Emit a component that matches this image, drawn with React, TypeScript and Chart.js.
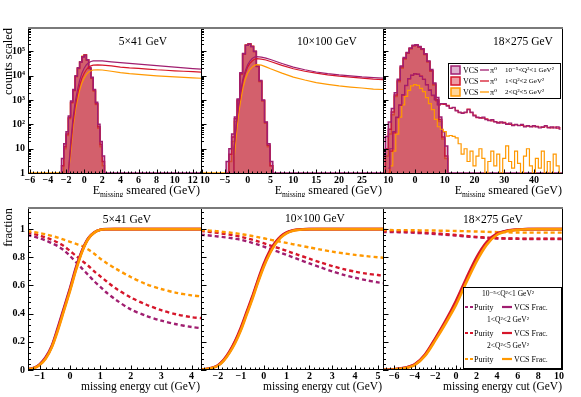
import React, { useEffect, useRef } from "react";
import { Chart, registerables } from "chart.js";

Chart.register(...registerables);

// ---------------- text ----------------
const ENERGY_LABELS = ["5×41 GeV", "10×100 GeV", "18×275 GeV"];
const Q2_LABELS = ["10⁻⁵<Q²<1 GeV²", "1<Q²<2 GeV²", "2<Q²<5 GeV²"];
const Y_TITLE_TOP = "counts scaled";
const Y_TITLE_BOTTOM = "fraction";
const X_TITLE_TOP = ["E", "missing", " smeared (GeV)"];
const X_TITLE_BOTTOM = "missing energy cut (GeV)";
const LOG_TICK_VALUES = [1, 10, 100, 1000, 10000, 100000];
const LOG_TICK_LABELS = ["1", "10", "10²", "10³", "10⁴", "10⁵"];

// ---------------- top row: 5x41 ----------------
const VCS41_BIN_START = -2.5;
const VCS41_BIN_WIDTH = 0.25;
const vcs41Purple = [4, 16, 50, 220, 900, 2700, 10000, 21000, 36000, 58000, 68000, 45000, 21000, 8500, 2700, 800, 100, 20, 5];
const vcs41Red = [2, 12, 40, 190, 800, 2500, 9500, 20000, 35000, 60000, 70000, 44000, 20000, 8000, 2500, 700, 80, 15, 3];
const vcs41Orange = [1, 10, 35, 170, 750, 2400, 9000, 19000, 36000, 62000, 72000, 43000, 19000, 7600, 2300, 650, 70, 12, 2];
const pi41X = [-1.75, -1.5, -1.25, -1, -0.75, -0.5, -0.25, 0, 0.25, 0.5, 0.75, 1, 1.5, 2, 3, 4, 5, 6, 7, 8, 9, 10, 11, 12, 12.9];
const pi41Purple = [1, 16, 160, 800, 2500, 6300, 12600, 20000, 28000, 34000, 38000, 40000, 40700, 40000, 37000, 34000, 31600, 29500, 27500, 25700, 24000, 22400, 20900, 19500, 18600];
const pi41Red = [1, 10, 100, 500, 1600, 4000, 7900, 12600, 17800, 22400, 25100, 26900, 27500, 26900, 25100, 22400, 20900, 20000, 18600, 17400, 16600, 15800, 15100, 14500, 13800];
const pi41Orange = [1, 6, 63, 316, 1000, 2500, 5000, 7900, 11200, 14100, 15800, 17000, 17400, 17000, 15100, 13200, 12000, 11200, 10500, 9800, 9300, 8900, 8500, 8100, 7800];

// ---------------- top row: 10x100 ----------------
const VCS100_BIN_START = -4.7;
const VCS100_BIN_WIDTH = 0.6;
const vcs100Purple = [3, 10, 40, 200, 1100, 13000, 80000, 178000, 200000, 158000, 100000, 25000, 6300, 1000, 126, 16, 3];
const vcs100Red = [1, 6, 30, 170, 1000, 12000, 78000, 175000, 198000, 156000, 98000, 24000, 6000, 950, 120, 14, 2];
const vcs100Orange = [1, 3, 20, 130, 900, 11000, 76000, 180000, 205000, 160000, 97000, 23000, 5600, 900, 110, 12, 2];
const pi100X = [-3.2, -3, -2.5, -2, -1.5, -1, -0.5, 0, 0.5, 1, 1.5, 2, 3, 4, 5, 7.5, 10, 12.5, 15, 17.5, 20, 22.5, 25, 27.5, 29.6];
const pi100Purple = [1, 10, 100, 630, 2500, 7900, 15800, 28200, 39800, 50100, 57500, 60300, 57500, 52500, 45700, 31600, 22400, 17400, 14100, 12000, 10700, 9800, 8900, 8300, 7900];
const pi100Red = [1, 8, 80, 500, 2000, 6300, 12600, 22400, 31600, 39800, 46800, 50100, 47900, 43700, 38000, 26300, 19100, 15100, 12600, 10700, 9500, 8700, 7900, 7200, 6900];
const pi100Orange = [1, 3, 32, 250, 1000, 3200, 7100, 12600, 17800, 22400, 26300, 28200, 26900, 22900, 19100, 12600, 8700, 6600, 5200, 4400, 3800, 3400, 3100, 2800, 2700];

// ---------------- top row: 18x275 ----------------
const VCS275_BIN_START = -11;
const VCS275_BIN_WIDTH = 1;
const vcs275Purple = [5, 32, 126, 450, 2000, 7100, 25100, 56000, 89000, 135000, 178000, 186000, 158000, 126000, 79000, 40000, 17800, 5000, 1260, 200, 50, 13];
const vcs275Red = [1, 10, 63, 320, 1600, 6300, 22400, 50000, 85000, 130000, 170000, 180000, 150000, 120000, 75000, 38000, 16000, 4500, 1000, 160, 30, 5];
const vcs275Orange = [1, 5, 40, 250, 1400, 5600, 20000, 48000, 83000, 128000, 168000, 178000, 150000, 118000, 72000, 36000, 15000, 4000, 900, 130, 25, 4];
const PI275_BIN_START = -9;
const PI275_BIN_WIDTH = 1;
const pi275Purple = [1.6, 10, 50, 200, 630, 1660, 4000, 7600, 10500, 11700, 11500, 9300, 7100, 4200, 2500, 1600, 1000, 630, 710,
  708, 562, 447, 501, 355, 316, 282, 316, 398, 316, 224, 200, 178, 200, 158, 141, 158, 126, 112, 126, 112, 100, 112, 89, 100, 89, 100, 79, 89, 79, 89, 79, 71, 79, 89, 71, 79, 71, 79, 63];
const pi275Red = [1, 8, 45, 190, 600, 1600, 3900, 7400, 10300, 11900, 11300, 9500, 7000, 4300, 2600, 1500, 1050, 650, 680,
  660, 600, 470, 480, 380, 300, 300, 300, 420, 300, 240, 190, 190, 180, 170, 150, 140, 130, 120, 115, 120, 105, 100, 95, 95, 92, 90, 85, 84, 82, 80, 82, 78, 75, 80, 76, 72, 78, 70, 72];
const pi275Orange = [1, 2, 8, 40, 200, 630, 1400, 2500, 3800, 4300, 4000, 3000, 2200, 1260, 710, 400, 160, 80, 63,
  50, 33, 35, 32, 28, 16, 6, 10, 3, 8, 2, 5, 10, 4, 1, 3, 8, 2, 6, 1, 4, 13, 3, 1.6, 8, 2.5, 1, 5, 10, 2, 1, 4, 1.6, 8, 1, 3, 1, 6, 2, 1];

// ---------------- bottom row: 5x41 ----------------
const cut41X = [-1.4, -1.2, -1.0, -0.8, -0.6, -0.4, -0.2, 0, 0.2, 0.4, 0.6, 0.8, 1.0, 1.2, 1.5, 2, 2.5, 3, 3.5, 4, 4.35];
const frac41Purple = [0.005, 0.014, 0.04, 0.09, 0.17, 0.30, 0.44, 0.58, 0.73, 0.85, 0.935, 0.977, 0.996, 1, 1, 1, 1, 1, 1, 1, 1];
const frac41Red = [0.004, 0.013, 0.037, 0.085, 0.165, 0.29, 0.43, 0.57, 0.72, 0.845, 0.932, 0.976, 0.995, 0.999, 1, 1, 1, 1, 1, 1, 1];
const frac41Orange = [0.004, 0.012, 0.035, 0.08, 0.16, 0.28, 0.42, 0.56, 0.71, 0.84, 0.93, 0.975, 0.995, 0.999, 1, 1, 1, 1, 1, 1, 1];
const purity41Purple = [0.957, 0.948, 0.935, 0.92, 0.90, 0.88, 0.85, 0.81, 0.765, 0.72, 0.675, 0.63, 0.59, 0.55, 0.50, 0.43, 0.385, 0.35, 0.325, 0.305, 0.296];
const purity41Red = [0.975, 0.966, 0.955, 0.94, 0.925, 0.905, 0.88, 0.845, 0.81, 0.775, 0.74, 0.70, 0.665, 0.63, 0.58, 0.515, 0.465, 0.425, 0.395, 0.375, 0.368];
const purity41Orange = [0.986, 0.98, 0.972, 0.963, 0.952, 0.94, 0.925, 0.91, 0.895, 0.88, 0.855, 0.825, 0.79, 0.76, 0.72, 0.66, 0.61, 0.575, 0.548, 0.53, 0.522];

// ---------------- bottom row: 10x100 ----------------
const cut100X = [-2.75, -2.5, -2.25, -2, -1.75, -1.5, -1.25, -1, -0.75, -0.5, -0.25, 0, 0.25, 0.5, 0.75, 1, 1.25, 1.5, 2, 2.5, 3, 3.5, 4, 4.5, 5, 5.25];
const frac100Purple = [0.002, 0.006, 0.015, 0.032, 0.068, 0.125, 0.2, 0.29, 0.40, 0.51, 0.63, 0.74, 0.83, 0.9, 0.945, 0.974, 0.989, 0.996, 1, 1, 1, 1, 1, 1, 1, 1];
const frac100Red = [0.002, 0.007, 0.016, 0.034, 0.072, 0.13, 0.205, 0.30, 0.41, 0.52, 0.64, 0.75, 0.84, 0.905, 0.95, 0.977, 0.99, 0.997, 1, 1, 1, 1, 1, 1, 1, 1];
const frac100Orange = [0.002, 0.006, 0.014, 0.03, 0.065, 0.12, 0.19, 0.28, 0.39, 0.50, 0.62, 0.73, 0.82, 0.89, 0.94, 0.97, 0.987, 0.995, 0.999, 1, 1, 1, 1, 1, 1, 1];
const purity100Purple = [0.96, 0.957, 0.953, 0.948, 0.943, 0.938, 0.932, 0.925, 0.915, 0.903, 0.89, 0.876, 0.862, 0.847, 0.832, 0.817, 0.802, 0.787, 0.757, 0.728, 0.70, 0.675, 0.655, 0.637, 0.622, 0.617];
const purity100Red = [0.986, 0.983, 0.978, 0.973, 0.967, 0.961, 0.954, 0.946, 0.936, 0.925, 0.913, 0.90, 0.887, 0.873, 0.86, 0.846, 0.832, 0.818, 0.79, 0.763, 0.738, 0.716, 0.698, 0.684, 0.674, 0.67];
const purity100Orange = [0.993, 0.991, 0.988, 0.985, 0.98, 0.976, 0.971, 0.965, 0.958, 0.951, 0.943, 0.935, 0.926, 0.918, 0.91, 0.902, 0.894, 0.886, 0.87, 0.855, 0.84, 0.828, 0.817, 0.808, 0.80, 0.797];

// ---------------- bottom row: 18x275 ----------------
const cut275X = [-7.1, -6, -5, -4, -3, -2, -1, 0, 1, 2, 3, 4, 5, 6, 7, 8, 9, 10, 10.4];
const frac275Purple = [0.001, 0.005, 0.014, 0.038, 0.105, 0.22, 0.34, 0.475, 0.635, 0.785, 0.9, 0.965, 0.988, 0.996, 1, 1, 1, 1, 1];
const frac275Red = [0.001, 0.005, 0.015, 0.04, 0.11, 0.225, 0.35, 0.49, 0.65, 0.80, 0.91, 0.97, 0.99, 0.997, 1, 1, 1, 1, 1];
const frac275Orange = [0.001, 0.004, 0.012, 0.035, 0.10, 0.21, 0.33, 0.46, 0.62, 0.77, 0.89, 0.96, 0.985, 0.995, 0.999, 1, 1, 1, 1];
const purity275Purple = [0.98, 0.979, 0.977, 0.974, 0.97, 0.965, 0.96, 0.955, 0.948, 0.942, 0.937, 0.934, 0.932, 0.931, 0.93, 0.93, 0.93, 0.93, 0.93];
const purity275Red = [0.985, 0.984, 0.982, 0.979, 0.975, 0.97, 0.964, 0.958, 0.951, 0.945, 0.94, 0.936, 0.934, 0.933, 0.932, 0.932, 0.932, 0.932, 0.932];
const purity275Orange = [0.994, 0.993, 0.993, 0.992, 0.991, 0.99, 0.988, 0.987, 0.985, 0.983, 0.981, 0.979, 0.977, 0.976, 0.975, 0.975, 0.975, 0.975, 0.975];

// ---------------- styles ----------------
const SERIF = "'Liberation Serif', 'DejaVu Serif', 'Times New Roman', serif";
const PURPLE = "rgb(160,30,112)";
const RED = "rgb(214,22,42)";
const ORANGE = "rgb(255,152,0)";
const PURPLE_FILL = "rgba(160,30,112,0.35)";
const RED_FILL = "rgba(214,22,42,0.42)";
const ORANGE_FILL = "rgba(255,152,0,0.4)";
const COLORS = [PURPLE, RED, ORANGE];
const FILLS = [PURPLE_FILL, RED_FILL, ORANGE_FILL];
const TICK_FONT = { family: SERIF, size: 10, weight: "bold" as const, lineHeight: 1 };

type Pt = { x: number; y: number };

function histPoints(start: number, width: number, counts: number[], extendLeft?: number, extendRight?: number): Pt[] {
  const pts: Pt[] = [];
  if (extendLeft !== undefined) pts.push({ x: extendLeft, y: 1 });
  pts.push({ x: start, y: 1 });
  counts.forEach((c, i) => pts.push({ x: start + i * width, y: c }));
  const end = start + counts.length * width;
  pts.push({ x: end, y: 1 });
  if (extendRight !== undefined) pts.push({ x: extendRight, y: 1 });
  return pts;
}
function centers(start: number, width: number, counts: number[]): Pt[] {
  return counts.map((c, i) => ({ x: start + i * width, y: c }));
}
function zip(xs: number[], ys: number[]): Pt[] {
  return xs.map((x, i) => ({ x, y: ys[i] }));
}

const histDs = (data: Pt[], i: number) => ({
  data, borderColor: COLORS[i], backgroundColor: FILLS[i], borderWidth: 1.5,
  fill: "start", stepped: "before", pointRadius: 0,
});
const lineDs = (data: Pt[], i: number, stepped: any = false) => ({
  data, borderColor: COLORS[i], borderWidth: 1.2, fill: false, pointRadius: 0, stepped, tension: 0,
});
const solidDs = (data: Pt[], i: number) => ({
  data, borderColor: COLORS[i], borderWidth: 2.6, fill: false, pointRadius: 0, tension: 0.3,
});
const dashDs = (data: Pt[], i: number) => ({
  data, borderColor: COLORS[i], borderWidth: 2.4, borderDash: [4, 3], fill: false, pointRadius: 0, tension: 0.3,
});

type Spec = {
  ox: number; oy: number; width: number; height: number;
  areaLeft: number; areaRight: number; areaTop: number; areaBottom: number;
  xMin: number; xMax: number; xMajor: number; xMinor: number;
  log: boolean; yLabels: boolean;
  label: string; labelX: number; labelY: number;
  yTitle?: { text: string; x: number; yTop: number };
  rightBorder: boolean;
  legend?: "top" | "bottom";
  datasets: any[];
};

function fmt(v: number) {
  const r = Math.round(v * 1000) / 1000;
  return r < 0 ? "−" + Math.abs(r) : String(r);
}

function drawTopLegend(ctx: CanvasRenderingContext2D, ox: number, oy: number) {
  const L = 448 - ox, T = 63 - oy, R = 561 - ox, B = 99 - oy;
  ctx.fillStyle = "#fff";
  ctx.fillRect(L, T, R - L, B - T);
  ctx.strokeStyle = "#000";
  ctx.lineWidth = 1;
  ctx.strokeRect(L + 0.5, T + 0.5, R - L - 1, B - T - 1);
  const rows = [70, 81, 92];
  rows.forEach((ry, i) => {
    const y = ry - oy;
    ctx.fillStyle = FILLS[i];
    ctx.fillRect(L + 3, y - 4, 9, 8);
    ctx.strokeStyle = COLORS[i];
    ctx.lineWidth = 1.5;
    ctx.strokeRect(L + 3, y - 4, 9, 8);
    ctx.fillStyle = "#000";
    ctx.font = `8px ${SERIF}`;
    ctx.textAlign = "left";
    ctx.textBaseline = "middle";
    ctx.fillText("VCS", L + 15, y + 0.5);
    ctx.strokeStyle = COLORS[i];
    ctx.lineWidth = 1.3;
    ctx.beginPath();
    ctx.moveTo(L + 32, y);
    ctx.lineTo(L + 41, y);
    ctx.stroke();
    ctx.fillText("π⁰", L + 42, y + 0.5);
    ctx.font = `7px ${SERIF}`;
    ctx.fillText(Q2_LABELS[i], L + 57, y + 0.5);
  });
}

function drawBottomLegend(ctx: CanvasRenderingContext2D, ox: number, oy: number) {
  const L = 463 - ox, T = 287 - oy, R = 562 - ox, B = 369 - oy;
  ctx.fillStyle = "#fff";
  ctx.fillRect(L, T, R - L, B - T);
  ctx.strokeStyle = "#000";
  ctx.lineWidth = 1;
  ctx.strokeRect(L + 0.5, T + 0.5, R - L - 1, B - T - 1);
  const heads = [294, 320, 346];
  heads.forEach((hy, i) => {
    ctx.fillStyle = "#000";
    ctx.font = `7.5px ${SERIF}`;
    ctx.textAlign = "center";
    ctx.textBaseline = "middle";
    ctx.fillText(Q2_LABELS[i], 508 - ox, hy - oy);
    const y = hy + 13 - oy;
    ctx.strokeStyle = COLORS[i];
    ctx.lineWidth = 2.2;
    ctx.setLineDash([3, 2]);
    ctx.beginPath();
    ctx.moveTo(465 - ox, y);
    ctx.lineTo(473 - ox, y);
    ctx.stroke();
    ctx.setLineDash([]);
    ctx.beginPath();
    ctx.moveTo(502 - ox, y);
    ctx.lineTo(512 - ox, y);
    ctx.stroke();
    ctx.fillStyle = "#000";
    ctx.font = `8px ${SERIF}`;
    ctx.textAlign = "left";
    ctx.fillText("Purity", 474 - ox, y + 0.5);
    ctx.fillText("VCS Frac.", 514 - ox, y + 0.5);
  });
}

function makeDecor(s: Spec) {
  return {
    id: "decor",
    afterDatasetsDraw(chart: any) {
      const ctx: CanvasRenderingContext2D = chart.ctx;
      const a = chart.chartArea;
      const xs = chart.scales.x;
      const ys = chart.scales.y;
      ctx.save();
      ctx.strokeStyle = "#000";
      ctx.lineWidth = 1;
      ctx.beginPath();
      const kMin = Math.ceil(s.xMin / s.xMinor - 1e-6);
      const kMax = Math.floor(s.xMax / s.xMinor + 1e-6);
      for (let k = kMin; k <= kMax; k++) {
        const v = k * s.xMinor;
        const r = v / s.xMajor;
        const len = Math.abs(r - Math.round(r)) < 1e-6 ? 4.5 : 2.5;
        const px = Math.round(xs.getPixelForValue(v)) + 0.5;
        ctx.moveTo(px, a.bottom);
        ctx.lineTo(px, a.bottom - len);
      }
      const yTick = (v: number, len: number) => {
        const py = Math.round(ys.getPixelForValue(v)) + 0.5;
        ctx.moveTo(a.left, py);
        ctx.lineTo(a.left + len, py);
      };
      if (s.log) {
        for (let dec = 1; dec <= ys.max; dec *= 10) {
          for (let m = 1; m <= 9; m++) {
            const v = m * dec;
            if (v >= 1 && v <= ys.max) yTick(v, m === 1 ? 5.5 : 3);
          }
        }
      } else {
        for (let k = 0; k * 0.04 <= ys.max + 1e-9; k++) {
          yTick(k * 0.04, k % 5 === 0 ? 5.5 : 3);
        }
      }
      ctx.stroke();
      ctx.beginPath();
      ctx.moveTo(a.left + 0.5, a.top);
      ctx.lineTo(a.left + 0.5, a.bottom);
      ctx.moveTo(a.left, a.bottom - 0.5);
      ctx.lineTo(a.right, a.bottom - 0.5);
      if (s.rightBorder) {
        ctx.moveTo(a.right - 0.5, a.top);
        ctx.lineTo(a.right - 0.5, a.bottom);
      }
      ctx.stroke();
      ctx.strokeStyle = "#7a7a7a";
      ctx.lineWidth = 2;
      ctx.beginPath();
      ctx.moveTo(a.left, a.top);
      ctx.lineTo(a.right, a.top);
      ctx.stroke();
      ctx.restore();
    },
    afterDraw(chart: any) {
      const ctx: CanvasRenderingContext2D = chart.ctx;
      const a = chart.chartArea;
      ctx.save();
      ctx.fillStyle = "#000";
      ctx.font = `11.5px ${SERIF}`;
      ctx.textAlign = "center";
      ctx.textBaseline = "middle";
      ctx.fillText(s.label, s.labelX - s.ox, s.labelY - s.oy);
      if (s.log) {
        const big = `12px ${SERIF}`;
        const small = `7.5px ${SERIF}`;
        ctx.font = big;
        const wE = ctx.measureText(X_TITLE_TOP[0]).width;
        const wRest = ctx.measureText(X_TITLE_TOP[2]).width;
        ctx.font = small;
        const wSub = ctx.measureText(X_TITLE_TOP[1]).width;
        let x = a.right - 1 - (wE + wSub + wRest);
        const base = a.bottom + 19.5;
        ctx.textAlign = "left";
        ctx.textBaseline = "alphabetic";
        ctx.font = big;
        ctx.fillText(X_TITLE_TOP[0], x, base);
        x += wE;
        ctx.font = small;
        ctx.fillText(X_TITLE_TOP[1], x, base + 3);
        x += wSub;
        ctx.font = big;
        ctx.fillText(X_TITLE_TOP[2], x, base);
      } else {
        ctx.font = `11.5px ${SERIF}`;
        ctx.textAlign = "right";
        ctx.textBaseline = "alphabetic";
        ctx.fillText(X_TITLE_BOTTOM, a.right - 1, a.bottom + 20);
      }
      if (s.yTitle) {
        ctx.save();
        ctx.translate(s.yTitle.x - s.ox, s.yTitle.yTop - s.oy);
        ctx.rotate(-Math.PI / 2);
        ctx.font = `12.5px ${SERIF}`;
        ctx.textAlign = "right";
        ctx.textBaseline = "middle";
        ctx.fillText(s.yTitle.text, 0, 0);
        ctx.restore();
      }
      if (s.legend === "top") drawTopLegend(ctx, s.ox, s.oy);
      if (s.legend === "bottom") drawBottomLegend(ctx, s.ox, s.oy);
      ctx.restore();
    },
  };
}

function buildConfig(s: Spec): any {
  // chart area is fixed by giving each axis a fixed size (label boxes) and no label padding
  const yWidth = s.areaLeft - s.ox;
  const xHeight = s.oy + s.height - s.areaBottom;
  const fitY = (sc: any) => { sc.width = yWidth; sc.paddingTop = 0; sc.paddingBottom = 0; sc.paddingLeft = 0; sc.paddingRight = 0; };
  const fitX = (sc: any) => { sc.height = xHeight; sc.paddingLeft = 0; sc.paddingRight = 0; sc.paddingTop = 0; sc.paddingBottom = 0; };
  const y = s.log
    ? {
        type: "logarithmic", min: 0.92, max: 9e5,
        afterFit: fitY,
        afterBuildTicks: (sc: any) => { sc.ticks = LOG_TICK_VALUES.map((v) => ({ value: v })); },
        grid: { display: false, drawTicks: false }, border: { display: false },
        ticks: {
          display: s.yLabels, font: TICK_FONT, color: "#000", padding: 3,
          callback: (v: number) => { const i = LOG_TICK_VALUES.indexOf(v); return i >= 0 ? LOG_TICK_LABELS[i] : ""; },
        },
      }
    : {
        type: "linear", min: 0, max: 1.15,
        afterFit: fitY,
        grid: { display: false, drawTicks: false }, border: { display: false },
        ticks: {
          display: s.yLabels, stepSize: 0.2, includeBounds: false, font: TICK_FONT, color: "#000", padding: 3,
          callback: (v: number) => String(Math.round(v * 10) / 10),
        },
      };
  return {
    type: "line",
    data: { datasets: s.datasets },
    options: {
      responsive: false, animation: false, devicePixelRatio: 1, events: [],
      layout: {
        padding: {
          left: 0,
          right: s.ox + s.width - s.areaRight,
          top: s.areaTop - s.oy,
          bottom: 0,
        },
      },
      plugins: { legend: { display: false }, tooltip: { enabled: false }, title: { display: false } },
      scales: {
        x: {
          type: "linear", min: s.xMin, max: s.xMax,
          afterFit: fitX,
          grid: { display: false, drawTicks: false }, border: { display: false },
          ticks: {
            stepSize: s.xMajor, includeBounds: false, autoSkip: false, maxRotation: 0, minRotation: 0,
            font: TICK_FONT, color: "#000", padding: 1, callback: (v: number) => fmt(v),
          },
        },
        y,
      },
    },
    plugins: [makeDecor(s)],
  };
}

const PANELS: Spec[] = [
  {
    ox: 0, oy: 0, width: 201, height: 197, areaLeft: 28, areaRight: 201, areaTop: 28, areaBottom: 174,
    xMin: -6.2, xMax: 12.9, xMajor: 2, xMinor: 0.4, log: true, yLabels: true,
    label: ENERGY_LABELS[0], labelX: 143, labelY: 42,
    yTitle: { text: Y_TITLE_TOP, x: 9, yTop: 28 }, rightBorder: false,
    datasets: [
      lineDs(zip(pi41X, pi41Purple), 0), lineDs(zip(pi41X, pi41Red), 1), lineDs(zip(pi41X, pi41Orange), 2),
      histDs(histPoints(VCS41_BIN_START, VCS41_BIN_WIDTH, vcs41Purple, undefined, 12.9), 0),
      histDs(histPoints(VCS41_BIN_START, VCS41_BIN_WIDTH, vcs41Red), 1),
      histDs(histPoints(VCS41_BIN_START, VCS41_BIN_WIDTH, vcs41Orange, -6.2), 2),
    ],
  },
  {
    ox: 201, oy: 0, width: 182, height: 197, areaLeft: 201, areaRight: 383, areaTop: 28, areaBottom: 174,
    xMin: -10.2, xMax: 29.6, xMajor: 5, xMinor: 1, log: true, yLabels: false,
    label: ENERGY_LABELS[1], labelX: 327, labelY: 42, rightBorder: false,
    datasets: [
      lineDs(zip(pi100X, pi100Purple), 0), lineDs(zip(pi100X, pi100Red), 1), lineDs(zip(pi100X, pi100Orange), 2),
      histDs(histPoints(VCS100_BIN_START, VCS100_BIN_WIDTH, vcs100Purple, undefined, 29.6), 0),
      histDs(histPoints(VCS100_BIN_START, VCS100_BIN_WIDTH, vcs100Red), 1),
      histDs(histPoints(VCS100_BIN_START, VCS100_BIN_WIDTH, vcs100Orange, -10.2), 2),
    ],
  },
  {
    ox: 383, oy: 0, width: 198, height: 197, areaLeft: 383, areaRight: 563, areaTop: 28, areaBottom: 174,
    xMin: -10.8, xMax: 49.8, xMajor: 10, xMinor: 2, log: true, yLabels: false,
    label: ENERGY_LABELS[2], labelX: 523, labelY: 42, rightBorder: true, legend: "top",
    datasets: [
      lineDs(centers(PI275_BIN_START, PI275_BIN_WIDTH, pi275Purple), 0, "middle"),
      lineDs(centers(PI275_BIN_START, PI275_BIN_WIDTH, pi275Red), 1, "middle"),
      lineDs(centers(PI275_BIN_START, PI275_BIN_WIDTH, pi275Orange), 2, "middle"),
      histDs(histPoints(VCS275_BIN_START, VCS275_BIN_WIDTH, vcs275Purple, undefined, 49.8), 0),
      histDs(histPoints(VCS275_BIN_START, VCS275_BIN_WIDTH, vcs275Red), 1),
      histDs(histPoints(VCS275_BIN_START, VCS275_BIN_WIDTH, vcs275Orange), 2),
    ],
  },
  {
    ox: 0, oy: 197, width: 201, height: 200, areaLeft: 28, areaRight: 201, areaTop: 208, areaBottom: 370,
    xMin: -1.38, xMax: 4.31, xMajor: 1, xMinor: 0.2, log: false, yLabels: true,
    label: ENERGY_LABELS[0], labelX: 127, labelY: 220,
    yTitle: { text: Y_TITLE_BOTTOM, x: 8.5, yTop: 208 }, rightBorder: false,
    datasets: [
      solidDs(zip(cut41X, frac41Orange), 2), solidDs(zip(cut41X, frac41Red), 1), solidDs(zip(cut41X, frac41Purple), 0),
      dashDs(zip(cut41X, purity41Orange), 2), dashDs(zip(cut41X, purity41Red), 1), dashDs(zip(cut41X, purity41Purple), 0),
    ],
  },
  {
    ox: 201, oy: 197, width: 182, height: 200, areaLeft: 201, areaRight: 383, areaTop: 208, areaBottom: 370,
    xMin: -2.74, xMax: 5.22, xMajor: 1, xMinor: 0.2, log: false, yLabels: false,
    label: ENERGY_LABELS[1], labelX: 315, labelY: 219, rightBorder: false,
    datasets: [
      solidDs(zip(cut100X, frac100Orange), 2), solidDs(zip(cut100X, frac100Red), 1), solidDs(zip(cut100X, frac100Purple), 0),
      dashDs(zip(cut100X, purity100Orange), 2), dashDs(zip(cut100X, purity100Red), 1), dashDs(zip(cut100X, purity100Purple), 0),
    ],
  },
  {
    ox: 383, oy: 197, width: 198, height: 200, areaLeft: 383, areaRight: 563, areaTop: 208, areaBottom: 370,
    xMin: -7.07, xMax: 10.39, xMajor: 2, xMinor: 0.4, log: false, yLabels: false,
    label: ENERGY_LABELS[2], labelX: 493, labelY: 220, rightBorder: true, legend: "bottom",
    datasets: [
      solidDs(zip(cut275X, frac275Orange), 2), solidDs(zip(cut275X, frac275Red), 1), solidDs(zip(cut275X, frac275Purple), 0),
      dashDs(zip(cut275X, purity275Orange), 2), dashDs(zip(cut275X, purity275Red), 1), dashDs(zip(cut275X, purity275Purple), 0),
    ],
  },
];

function ChartPanel({ spec }: { spec: Spec }) {
  const ref = useRef<HTMLCanvasElement>(null);
  useEffect(() => {
    if (!ref.current) return;
    const chart = new Chart(ref.current, buildConfig(spec));
    return () => chart.destroy();
  }, [spec]);
  return (
    <canvas
      ref={ref}
      width={spec.width}
      height={spec.height}
      style={{ position: "absolute", left: spec.ox, top: spec.oy, width: spec.width, height: spec.height }}
    />
  );
}

export default function App() {
  return (
    <div style={{ position: "fixed", left: 0, top: 0, width: 581, height: 397, background: "#fff", overflow: "hidden" }}>
      {PANELS.map((p, i) => (
        <ChartPanel key={i} spec={p} />
      ))}
    </div>
  );
}
